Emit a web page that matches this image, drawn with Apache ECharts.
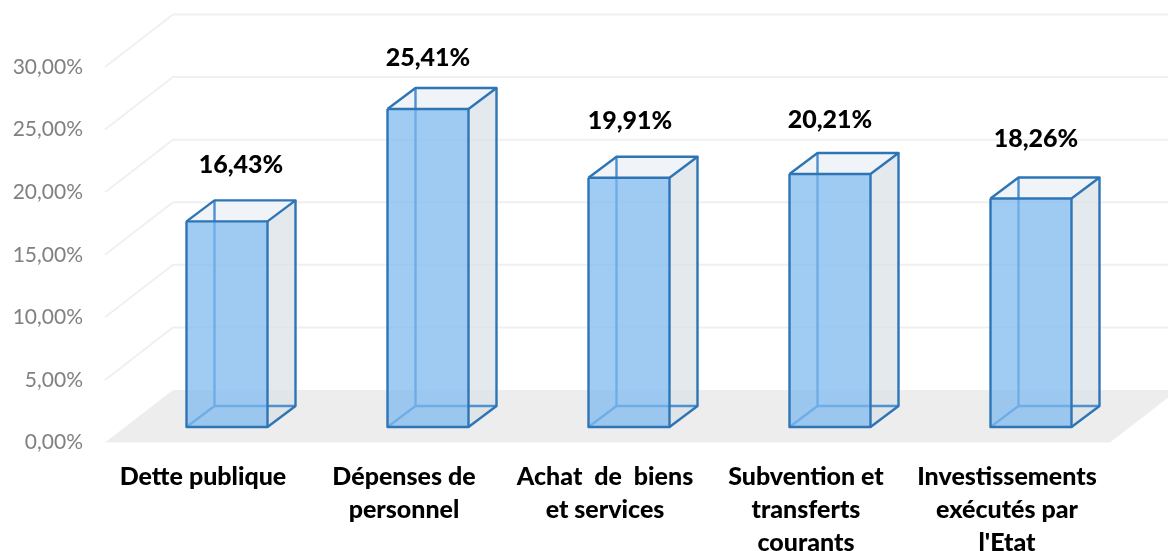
<!DOCTYPE html>
<html>
<head>
<meta charset="utf-8">
<style>
  html, body { margin: 0; padding: 0; background: #fff; }
  #chart { width: 1168px; height: 551px; }
</style>
<script src="https://cdn.jsdelivr.net/npm/echarts@6/dist/echarts.min.js"></script>
</head>
<body>
<div id="chart"></div>
<script>
// data
const categories = [
  "Dette publique",
  "Dépenses de\npersonnel",
  "Achat  de  biens\net services",
  "Subvention et\ntransferts\ncourants",
  "Investissements\nexécutés par\nl'Etat",
];
const values = [16.43, 25.41, 19.91, 20.21, 18.26];
const wallTicks = [5, 10, 15, 20, 25, 30];

// the value labels were moved by hand in the original
const labelShiftX = [14, 0, 1, 0, 5];
const labelShiftY = [0, 5, -1, 2, -4];

// fake 3D offsets, in pixels
const WALL_DX = 68, WALL_DY = -52.5;
const BAR_DX = 21.5, BAR_DY = -15.5;
const BOX_DX = 28, BOX_DY = -21;
const BAR_W = 81;

const fmt = (v) => v.toFixed(2).replace(".", ",") + "%";

function renderFloor(params, api) {
  const cs = params.coordSys;
  const y = api.coord([0, 0])[1];
  return {
    type: "polygon",
    silent: true,
    shape: { points: [
      [cs.x, y],
      [cs.x + cs.width, y],
      [cs.x + cs.width + WALL_DX, y + WALL_DY],
      [cs.x + WALL_DX, y + WALL_DY],
    ] },
    style: { fill: "#ededed" },
  };
}

function renderWall(params, api) {
  const cs = params.coordSys;
  const y = api.coord([0, api.value(0)])[1];
  return {
    type: "polyline",
    silent: true,
    shape: { points: [
      [cs.x, y],
      [cs.x + WALL_DX, y + WALL_DY],
      [cs.x + cs.width + WALL_DX, y + WALL_DY],
    ] },
    style: { fill: "none", stroke: "#f0f0f0", lineWidth: 2 },
  };
}

function renderBox(params, api) {
  const i = api.value(0);
  const top = api.coord([i, api.value(1)]);
  const base = api.coord([i, 0]);
  const xl = top[0] + BAR_DX - BAR_W / 2;
  const xr = xl + BAR_W;
  const yt = top[1] + BAR_DY;
  const yb = base[1] + BAR_DY;
  const dx = BOX_DX, dy = BOX_DY;
  const poly = (pts, fill) => ({ type: "polygon", shape: { points: pts }, style: { fill: fill } });
  const line = (pts, color, w) => ({
    type: "polyline", shape: { points: pts },
    style: { fill: "none", stroke: color, lineWidth: w, lineJoin: "round" },
  });
  return {
    type: "group",
    children: [
      // back, side and top faces
      poly([[xl + dx, yt + dy], [xr + dx, yt + dy], [xr + dx, yb + dy], [xl + dx, yb + dy]], "rgba(238,242,246,0.35)"),
      poly([[xr, yt], [xr + dx, yt + dy], [xr + dx, yb + dy], [xr, yb]], "rgba(214,222,228,0.62)"),
      poly([[xl, yt], [xl + dx, yt + dy], [xr + dx, yt + dy], [xr, yt]], "rgba(238,242,246,0.9)"),
      // hidden edges show through the front face
      line([[xl + dx, yt + dy], [xl + dx, yb + dy], [xr + dx, yb + dy]], "#4f90cf", 2.4),
      line([[xl, yb], [xl + dx, yb + dy]], "#4f90cf", 2.4),
      // front face
      poly([[xl, yt], [xr, yt], [xr, yb], [xl, yb]], "rgba(124,184,240,0.72)"),
      // visible edges
      line([[xl, yt], [xr, yt], [xr, yb], [xl, yb], [xl, yt]], "#2e75b6", 2.4),
      line([[xl, yt], [xl + dx, yt + dy], [xr + dx, yt + dy], [xr, yt]], "#2e75b6", 2.4),
      line([[xr + dx, yt + dy], [xr + dx, yb + dy], [xr, yb]], "#2e75b6", 2.4),
      {
        type: "text",
        style: {
          text: fmt(api.value(1)),
          x: top[0] + BAR_DX + labelShiftX[i],
          y: yt - 56 + labelShiftY[i],
          align: "center",
          verticalAlign: "middle",
          font: "900 25px Lato, sans-serif",
          fill: "#000",
        },
      },
    ],
  };
}

const chart = echarts.init(document.getElementById("chart"), null, { renderer: "canvas" });
chart.setOption({
  animation: false,
  backgroundColor: "#fff",
  grid: { left: 105, right: 58, top: 67, bottom: 108.5, outerBoundsMode: "none" },
  xAxis: {
    type: "category",
    data: categories,
    axisLine: { show: false },
    axisTick: { show: false },
    splitLine: { show: false },
    axisLabel: {
      interval: 0,
      margin: 18,
      padding: [0, 5, 0, 0],
      color: "#000",
      fontFamily: "Lato, sans-serif",
      fontWeight: 900,
      fontSize: 25,
      lineHeight: 33,
    },
  },
  yAxis: {
    type: "value",
    min: 0,
    max: 30,
    interval: 5,
    axisLine: { show: false },
    axisTick: { show: false },
    splitLine: { show: false },
    axisLabel: {
      margin: 22,
      color: "#808080",
      fontFamily: "Lato, sans-serif",
      fontSize: 21,
      formatter: (v) => fmt(v),
    },
  },
  series: [
    { type: "custom", clip: false, z: 1, renderItem: renderFloor, data: [[0]], silent: true },
    { type: "custom", clip: false, z: 2, renderItem: renderWall, data: wallTicks.map((t) => [t]), silent: true },
    {
      type: "custom",
      clip: false,
      z: 3,
      renderItem: renderBox,
      encode: { x: 0, y: 1 },
      data: values.map((v, i) => [i, v]),
    },
  ],
});
</script>
</body>
</html>
